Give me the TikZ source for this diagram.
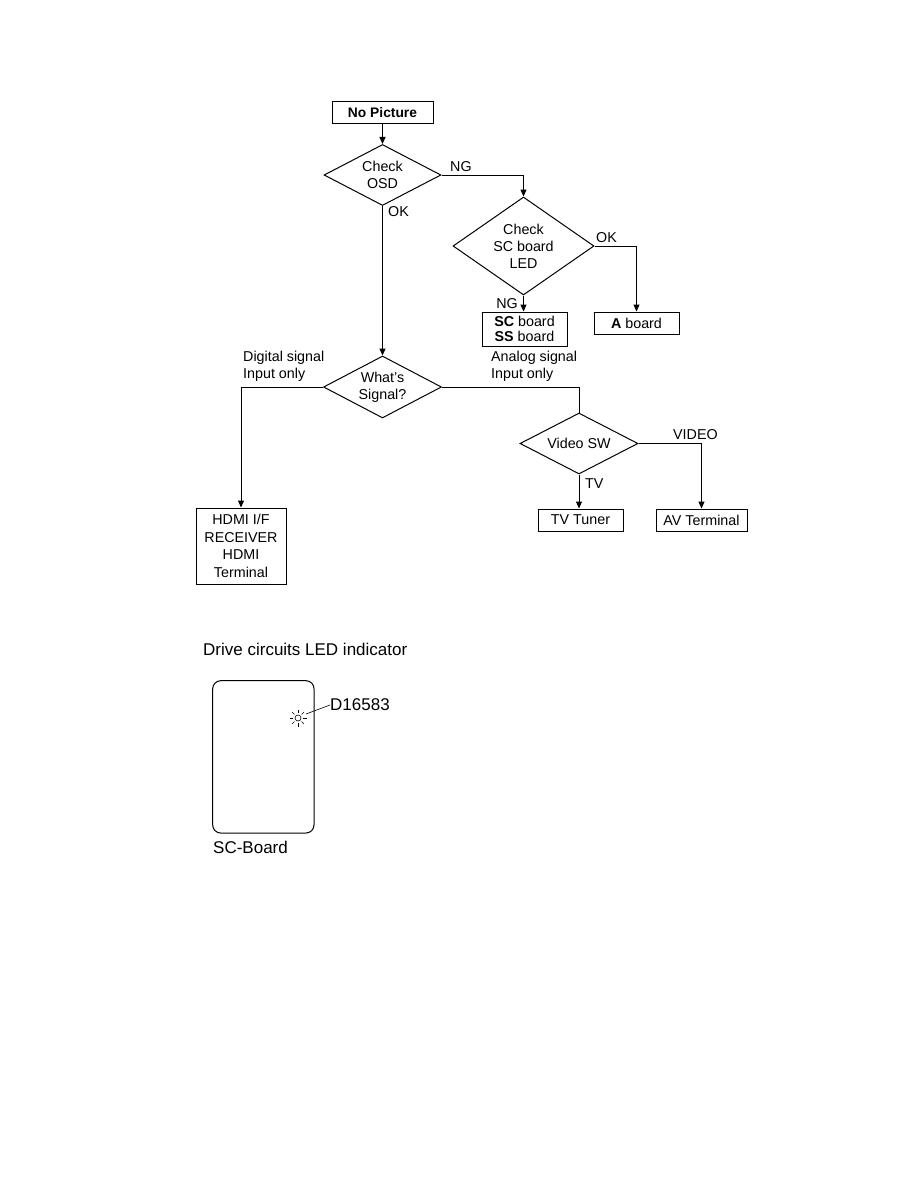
\documentclass[tikz,border=0pt]{standalone}
\usepackage{fontspec}
\setmainfont{Liberation Sans}
\usetikzlibrary{shapes.geometric,arrows.meta,calc}
\tikzset{
  box/.style={draw,line width=1pt,inner sep=0pt,align=center,font=\fontsize{14.3}{16}\selectfont},
  dia/.style={draw,diamond,line width=1pt,inner sep=0pt},
  dtext/.style={inner sep=0pt,align=center,font=\fontsize{14.3}{17}\selectfont},
  lbl/.style={inner sep=0pt,align=left,font=\fontsize{14.3}{17}\selectfont},
  big/.style={inner sep=0pt,anchor=west,font=\fontsize{17}{19}\selectfont},
  arr/.style={line width=1pt,-{Triangle[length=7pt,width=6pt]}},
  ln/.style={line width=1pt}
}
\begin{document}
\begin{tikzpicture}[x=1pt,y=-1pt]
\useasboundingbox (0,0) rectangle (918,1188);
% nodes
\node[box,minimum width=101pt,minimum height=22pt,font=\fontsize{13.8}{16}\selectfont] (np) at (382.5,113) {\textbf{No Picture}};
\node[dia,minimum width=117pt,minimum height=61pt] (osd) at (382.5,175) {};
\node[dtext] (osdt) at (osd.center) {Check\\OSD};
\node[dia,minimum width=141pt,minimum height=98pt] (led) at (523.5,246) {};
\node[dtext] (ledt) at (led.center) {Check\\SC board\\LED};
\node[box,minimum width=85pt,minimum height=34pt,font=\fontsize{14.3}{15.5}\selectfont] (scss) at (524.5,329) {\textbf{SC} board\\\textbf{SS} board};
\node[box,minimum width=85pt,minimum height=22pt] (ab) at (636.5,323) {\textbf{A} board};
\node[dia,minimum width=118pt,minimum height=62pt] (sig) at (382.5,387) {};
\node[dtext] (sigt) at (sig.center) {What's\\Signal?};
\node[box,minimum width=90pt,minimum height=76pt,font=\fontsize{14.3}{17.5}\selectfont] (hdmi) at (241,546) {HDMI I/F\\RECEIVER\\HDMI\\Terminal};
\node[dia,minimum width=118pt,minimum height=61pt] (vsw) at (579,443.5) {};
\node[dtext] (vswt) at (vsw.center) {Video SW};
\node[box,minimum width=85pt,minimum height=22pt] (tv) at (580.5,520) {TV Tuner};
\node[box,minimum width=91pt,minimum height=22pt] (av) at (701.5,520) {AV Terminal};
% connectors
\draw[arr] (np.south) -- (osd.north);
\draw[arr] (osd.east) -| (led.north);
\draw[arr] (osd.south) -- (sig.north);
\draw[arr] (led.south) -- (led.south |- scss.north);
\draw[arr] (led.east) -| (ab.north);
\draw[arr] (sig.west) -| (hdmi.north);
\draw[ln] (sig.east) -| (vsw.north);
\draw[arr] (vsw.south) -- (vsw.south |- tv.north);
\draw[arr] (vsw.east) -| (av.north);
% labels
\node[lbl,anchor=south west] (lng1) at (450,172) {NG};
\node[lbl,anchor=north west] (lok1) at (388,206) {OK};
\node[lbl,anchor=south west] (lok2) at (596,243) {OK};
\node[lbl,anchor=south east] (lng2) at (518,309) {NG};
\node[lbl,anchor=south west] (ldig) at (243,382) {Digital signal\\Input only};
\node[lbl,anchor=south west] (lana) at (491,382) {Analog signal\\Input only};
\node[lbl,anchor=south west] (lvid) at (673,440) {VIDEO};
\node[lbl,anchor=north west] (ltv) at (585,478) {TV};
% LED indicator section
\node[big] (title) at (203,649) {Drive circuits LED indicator};
\draw[line width=1pt,rounded corners=8pt] (212.7,680.7) rectangle (314,833);
\coordinate (ledc) at (298,718);
\draw[line width=0.6pt] (ledc) circle (3pt);
\foreach \a in {0,45,...,315}{
  \draw[line width=0.6pt] ($(ledc)+(\a:5)$) -- ($(ledc)+(\a:8.5)$);
}
\node[big] (dlbl) at (330,705) {D16583};
\draw[line width=0.6pt] (306,714) -- (dlbl.west);
\node[big] (scb) at (213,847) {SC-Board};
\end{tikzpicture}
\end{document}
